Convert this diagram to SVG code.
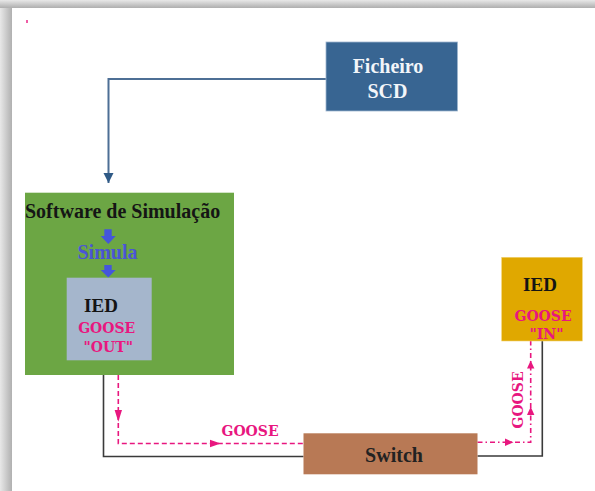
<svg xmlns="http://www.w3.org/2000/svg" width="595" height="491" viewBox="0 0 595 491">
<defs>
<linearGradient id="gl" x1="0" y1="0" x2="1" y2="0"><stop offset="0" stop-color="#e8e8e8"/><stop offset="1" stop-color="#b0b0b0"/></linearGradient>
<linearGradient id="gt" x1="0" y1="0" x2="0" y2="1"><stop offset="0" stop-color="#e8e8e8"/><stop offset="1" stop-color="#aeaeae"/></linearGradient>
<marker id="ab" viewBox="0 0 10 10" refX="10" refY="5" markerWidth="10" markerHeight="11" markerUnits="userSpaceOnUse" orient="auto"><path d="M0,0 L10,5 L0,10 Z" fill="#2f5a86"/></marker>
</defs>
<style>
text{font-family:'Liberation Serif','Times New Roman',serif;font-weight:bold}
.t{text-anchor:middle}
.g{font-family:'DejaVu Serif','Liberation Serif',serif;font-size:14px;fill:#e8177f;text-anchor:middle}
.pk{fill:none;stroke:#e8177f;stroke-width:1.6}
.ln{fill:none;stroke:#3a3a3a;stroke-width:1.6}
.ah{fill:#e8177f}
</style>
<rect x="0" y="0" width="12" height="491" fill="url(#gl)"/>
<rect x="0" y="0" width="595" height="8" fill="url(#gt)"/>
<rect x="12" y="8" width="583" height="483" fill="#ffffff"/>
<rect x="26" y="20" width="2" height="3" fill="#e8177f" opacity="0.7"/>

<g id="connectors">
<path d="M326,79 H108.5 V183" fill="none" stroke="#4d6f95" stroke-width="2" marker-end="url(#ab)"/>
<path class="ln" d="M103.5,375 V456.5 H303.5"/>
<path class="ln" d="M477.5,456 H542.3 V341"/>
<path class="pk" d="M118.3,375 V443.5 H303.5" stroke-dasharray="5 3"/>
<path class="pk" d="M477.5,442.3 H530.7 V341" stroke-dasharray="5 3 1.5 3"/>
<polygon class="ah" points="114.6,410 122,410 118.3,421.7"/>
<polygon class="ah" points="210,439.8 210,447.2 220.7,443.5"/>
<polygon class="ah" points="505,438.6 505,446 513.5,442.3"/>
<polygon class="ah" points="527,368.5 534.4,368.5 530.7,360.5"/>
<polygon class="ah" points="527,415 534.4,415 530.7,406.7"/>
<text class="g" transform="translate(522.5,400) rotate(-90)">GOOSE</text>
<text class="g" x="250" y="436">GOOSE</text>
</g>

<g id="ficheiro">
<rect x="326" y="42" width="131.5" height="69" fill="#386592" stroke="#9fb6cf" stroke-width="0.8"/>
<text class="t" x="388" y="73.3" font-size="20" fill="#f2f5f9">Ficheiro</text>
<text class="t" x="387.5" y="97.7" font-size="20" fill="#f2f5f9">SCD</text>
</g>

<g id="software">
<rect x="25" y="192.7" width="209" height="182.3" fill="#6ca644"/>
<text x="25" y="217.7" font-size="20" fill="#151515">Software de Simulação</text>
<path d="M104.3,229.3 H111.7 V236 H115.7 L108.3,244 L100.7,236 H104.3 Z" fill="#4456dc"/>
<text class="t" x="107.5" y="259.3" font-size="20" fill="#4a55d4">Simula</text>
<path d="M104.3,265 H111.7 V270 H115.7 L108.3,277.5 L100.7,270 H104.3 Z" fill="#4456dc"/>
</g>

<g id="ied-out">
<rect x="66.7" y="277.7" width="85" height="82.6" fill="#a5b6cc"/>
<text class="t" x="101" y="311.7" font-size="19" fill="#141414">IED</text>
<text class="g" x="106.7" y="333">GOOSE</text>
<text class="g" x="108.3" y="352">"OUT"</text>
</g>

<g id="ied-in">
<rect x="501.7" y="257.3" width="80.6" height="83.7" fill="#e0a800" stroke="#f0d070" stroke-width="0.6"/>
<text class="t" x="540" y="291" font-size="19" fill="#141414">IED</text>
<text class="g" x="543" y="321">GOOSE</text>
<text class="g" x="546.5" y="339">"IN"</text>
</g>

<g id="switch">
<rect x="303.5" y="433.3" width="174" height="41" fill="#b87955"/>
<text class="t" x="394" y="461.7" font-size="20" fill="#222222">Switch</text>
</g>
</svg>
